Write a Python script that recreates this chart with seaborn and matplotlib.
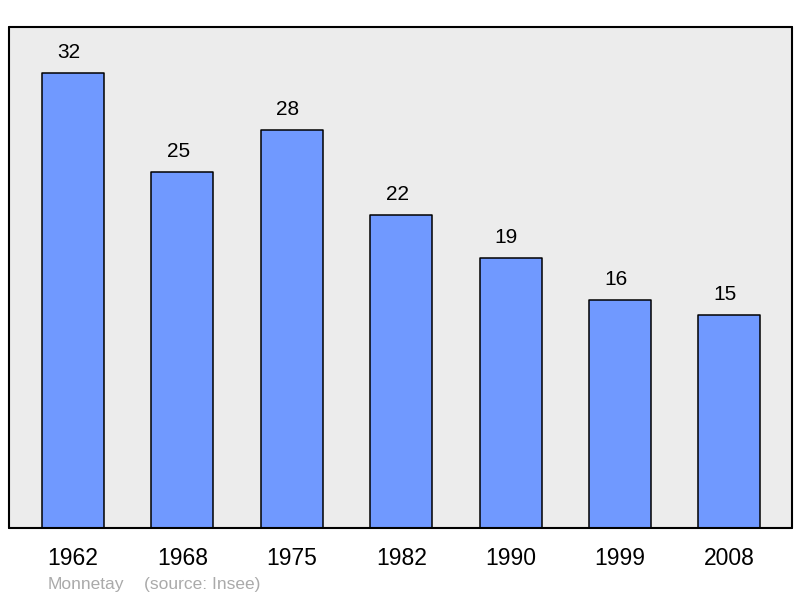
import matplotlib
matplotlib.use("Agg")
import matplotlib.pyplot as plt
import seaborn as sns
import pandas as pd

years = ["1962", "1968", "1975", "1982", "1990", "1999", "2008"]
population = [32, 25, 28, 22, 19, 16, 15]
footer_name = "Monnetay"
footer_source = "(source: Insee)"

sns.set_theme(style="white")
plt.rcParams['font.family'] = ['Liberation Sans', 'DejaVu Sans']

df = pd.DataFrame({"year": years, "pop": population})

fig = plt.figure(figsize=(8, 5.98), dpi=100)
ax = fig.add_axes([9/800, 70/598, 783/800, 501/598])
ax.set_facecolor("#ececec")

sns.barplot(data=df, x="year", y="pop", ax=ax, color="#7099ff", saturation=1,
            width=0.567, edgecolor="black", linewidth=1.1)
for p in ax.patches:
    p.set_joinstyle("round")

for i, v in enumerate(population):
    ax.annotate(str(v), (i, v), xytext=(-3, 8), textcoords="offset points",
                ha="center", va="bottom", fontsize=15, color="black")

ax.set_xlim(-0.585, 6.572)
ax.set_ylim(0, 35.23)
ax.set_xlabel("")
ax.set_ylabel("")
ax.set_yticks([])
ax.tick_params(axis="x", length=0, pad=14, labelsize=16.5, colors="black")
for s in ax.spines.values():
    s.set_visible(True)
    s.set_color("black")
    s.set_linewidth(1.5)
    s.set_joinstyle("round")
    s.set_capstyle("round")

fig.text(48/800, 1 - 584/598, footer_name, fontsize=12.5, color="#aaaaaa", va="center", ha="left")
fig.text(144/800, 1 - 584/598, footer_source, fontsize=12.5, color="#aaaaaa", va="center", ha="left")

fig.savefig("out.png", dpi=100, facecolor="white")
